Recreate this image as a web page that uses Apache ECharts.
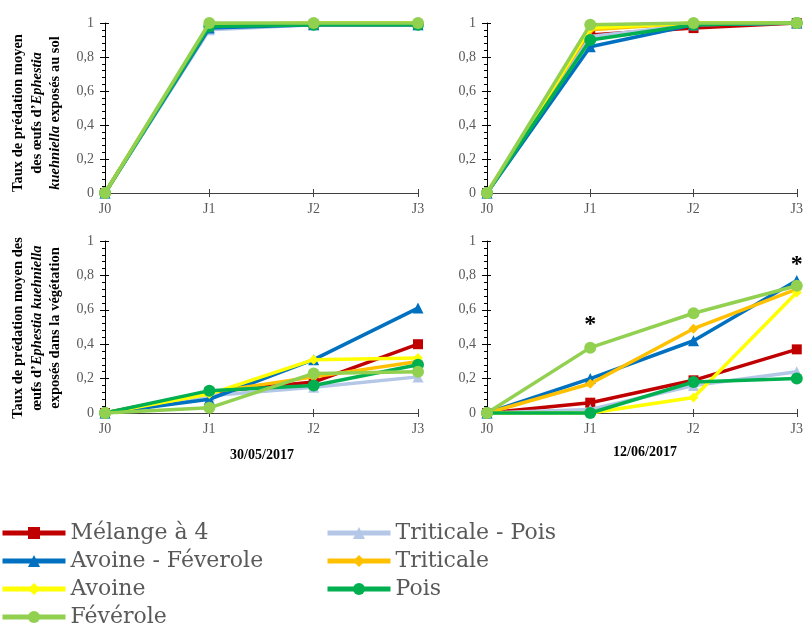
<!DOCTYPE html>
<html>
<head>
<meta charset="utf-8">
<script src="https://cdn.jsdelivr.net/npm/echarts@6/dist/echarts.min.js"></script>
<style>html,body{margin:0;padding:0;background:#fff;}#c{width:806px;height:626px;}</style>
</head>
<body>
<div id="c"></div>
<script>
const categories = ['J0', 'J1', 'J2', 'J3'];
const seriesNames = ['Mélange à 4', 'Avoine - Féverole', 'Avoine', 'Févérole', 'Triticale - Pois', 'Triticale', 'Pois'];
const seriesColors = ['#C00000', '#0070C0', '#FFFF00', '#92D050', '#B4C7E7', '#FFC000', '#00B050'];
const seriesSymbols = ['rect', 'triangle', 'diamond', 'circle', 'triangle', 'diamond', 'circle'];
const yTicks = [0, 0.2, 0.4, 0.6, 0.8, 1];
const dates = ['30/05/2017', '12/06/2017'];

// Sol, 30/05/2017 (one row per series, in seriesNames order)
const solMay = [
  [0, 0.98, 0.99, 0.99],
  [0, 0.97, 0.99, 0.99],
  [0, 0.99, 1, 1],
  [0, 1, 1, 1],
  [0, 0.96, 0.99, 0.99],
  [0, 0.99, 1, 1],
  [0, 0.98, 0.99, 0.99]
];
// Sol, 12/06/2017
const solJune = [
  [0, 0.93, 0.97, 1],
  [0, 0.86, 0.99, 1],
  [0, 0.97, 1, 1],
  [0, 0.99, 1, 1],
  [0, 0.92, 0.99, 1],
  [0, 0.96, 1, 1],
  [0, 0.90, 0.99, 1]
];
// Végétation, 30/05/2017
const vegMay = [
  [0, 0.12, 0.18, 0.40],
  [0, 0.08, 0.31, 0.61],
  [0, 0.11, 0.31, 0.32],
  [0, 0.03, 0.23, 0.24],
  [0, 0.10, 0.15, 0.21],
  [0, 0.12, 0.21, 0.30],
  [0, 0.13, 0.16, 0.28]
];
// Végétation, 12/06/2017
const vegJune = [
  [0, 0.06, 0.19, 0.37],
  [0, 0.20, 0.42, 0.77],
  [0, 0, 0.09, 0.70],
  [0, 0.38, 0.58, 0.74],
  [0, 0.02, 0.16, 0.24],
  [0, 0.17, 0.49, 0.72],
  [0, 0, 0.18, 0.20]
];
// significance marks (panel végétation 12/06)
const starPoints = [['J1', 0.51], ['J3', 0.86]];

const panels = [solMay, solJune, vegMay, vegJune];
const FONT = '"Liberation Serif", "Times New Roman", serif';
const LEGEND_FONT = '"DejaVu Serif", serif';
const drawOrder = [0, 4, 1, 5, 2, 6, 3];
const symbolSizes = [10, 11, 10, 12, 11, 10, 12];

const grids = [
  {left: 105, top: 23, width: 313, height: 170},
  {left: 487, top: 23, width: 314, height: 170},
  {left: 105, top: 241, width: 313, height: 172},
  {left: 487, top: 241, width: 314, height: 172}
];

const xAxes = [], yAxes = [], series = [];
grids.forEach((g, i) => {
  xAxes.push({
    type: 'category', gridIndex: i, data: categories, boundaryGap: false,
    axisLine: {lineStyle: {color: '#404040', width: 1}},
    axisTick: {show: true, length: 4, lineStyle: {color: '#404040'}},
    axisLabel: {color: '#595959', fontFamily: FONT, fontSize: 14, margin: 9}
  });
  xAxes.push({
    type: 'category', gridIndex: i, data: categories, boundaryGap: false, position: 'bottom',
    axisLine: {show: false}, axisTick: {show: true, inside: true, length: 4, lineStyle: {color: '#404040'}},
    axisLabel: {show: false}
  });
  yAxes.push({
    type: 'value', gridIndex: i, min: 0, max: 1, interval: 0.2,
    axisLine: {show: true, lineStyle: {color: '#000', width: 1}},
    axisTick: {show: true, length: 5, lineStyle: {color: '#000'}},
    minorTick: {show: true, splitNumber: 5, length: 3, lineStyle: {color: '#000'}},
    splitLine: {show: false},
    axisLabel: {color: '#595959', fontFamily: FONT, fontSize: 14, margin: 11,
      formatter: v => String(+v.toFixed(1)).replace('.', ',')}
  });
  yAxes.push({
    type: 'value', gridIndex: i, min: 0, max: 1, interval: 0.2, position: 'left',
    axisLine: {show: false}, axisTick: {show: true, inside: true, length: 4, lineStyle: {color: '#000'}},
    splitLine: {show: false}, axisLabel: {show: false}
  });
  drawOrder.forEach((k, z) => {
    const s = {
      type: 'line', name: seriesNames[k], xAxisIndex: i * 2, yAxisIndex: i * 2,
      data: panels[i][k], symbol: seriesSymbols[k], symbolSize: symbolSizes[k],
      showAllSymbol: true, z: 2 + z, clip: false,
      lineStyle: {color: seriesColors[k], width: 3.5},
      itemStyle: {color: seriesColors[k]},
      emphasis: {disabled: true}, animation: false
    };
    if (i === 3 && k === 3) {
      s.markPoint = {
        symbol: 'circle', symbolSize: 1, itemStyle: {color: 'rgba(0,0,0,0)'},
        label: {show: true, position: 'inside', formatter: '*', color: '#000', fontFamily: FONT, fontSize: 24, fontWeight: 'bold'},
        data: starPoints.map(p => ({coord: p}))
      };
    }
    series.push(s);
  });
});

const legendText = {color: '#595959', fontFamily: LEGEND_FONT, fontSize: 22, lineHeight: 24};
const legendBase = {orient: 'vertical', padding: 0, itemGap: 4, itemWidth: 63, itemHeight: 15, height: 120,
  selectedMode: false, textStyle: legendText, lineStyle: {width: 5}};
const option = {
  animation: false,
  backgroundColor: '#fff',
  grid: grids,
  xAxis: xAxes,
  yAxis: yAxes,
  series: series,
  legend: [
    Object.assign({left: 0, top: 521, data: [seriesNames[0], seriesNames[1], seriesNames[2], seriesNames[3]]}, legendBase),
    Object.assign({left: 325, top: 521, data: [seriesNames[4], seriesNames[5], seriesNames[6]]}, legendBase)
  ],
  graphic: [
    {type: 'text', x: 37, y: 113, rotation: Math.PI / 2,
     style: {text: 'Taux de prédation moyen\ndes œufs d\u2019{i|Ephestia}\n{i|kuehniella} exposés au sol',
       align: 'center', verticalAlign: 'middle', fill: '#000', font: 'bold 14.5px ' + FONT, lineHeight: 18.5,
       rich: {i: {fontStyle: 'italic', fontWeight: 'bold', fontFamily: FONT, fontSize: 14.5, lineHeight: 18.5, fill: '#000'}}}},
    {type: 'text', x: 37, y: 328, rotation: Math.PI / 2,
     style: {text: 'Taux de prédation moyen des\nœufs d\u2019{i|Ephestia kuehniella}\nexposés dans la végétation',
       align: 'center', verticalAlign: 'middle', fill: '#000', font: 'bold 14.5px ' + FONT, lineHeight: 18.5,
       rich: {i: {fontStyle: 'italic', fontWeight: 'bold', fontFamily: FONT, fontSize: 14.5, lineHeight: 18.5, fill: '#000'}}}},
    {type: 'text', x: 262, y: 455, style: {text: dates[0], align: 'center', verticalAlign: 'middle', fill: '#000', font: 'bold 14px ' + FONT}},
    {type: 'text', x: 645, y: 452, style: {text: dates[1], align: 'center', verticalAlign: 'middle', fill: '#000', font: 'bold 14px ' + FONT}}
  ]
};
const chart = echarts.init(document.getElementById('c'), null, {renderer: 'canvas'});
chart.setOption(option);
</script>
</body>
</html>
